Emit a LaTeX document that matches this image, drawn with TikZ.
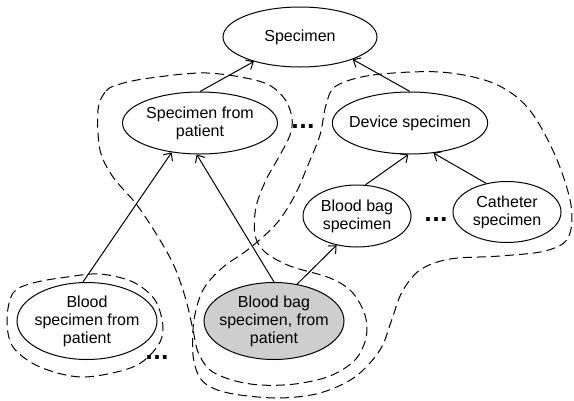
\documentclass[tikz,border=0pt]{standalone}
\usepackage{fontspec}
\setmainfont{Liberation Sans}
\newfontfamily\dotfont{DejaVu Sans}
\usetikzlibrary{shapes.geometric,arrows.meta}

\tikzset{
  cls/.style={ellipse, draw, line width=1pt, inner xsep=-6pt, inner ysep=0pt,
    align=center, font=\fontsize{16}{18}\selectfont},
  shaded/.style={fill={rgb,255:red,206;green,206;blue,206}},
  isa/.style={-{Straight Barb[length=6pt,width=11pt,line width=1pt]}, line width=1pt},
  group/.style={dashed, dash pattern=on 9pt off 5pt, line width=1pt},
  more/.style={font=\dotfont\bfseries\fontsize{21}{21}\selectfont, inner sep=0pt}
}

\begin{document}
\begin{tikzpicture}[x=1pt, y=-1pt]
\useasboundingbox (0,0) rectangle (574,400);

% class nodes
\node[cls, minimum width=154pt, minimum height=60pt] (spec) at (300,37) {Specimen};
\node[cls, minimum width=155pt, minimum height=62pt] (sfp) at (200,123) {Specimen from\\patient};
\node[cls, minimum width=154pt, minimum height=62pt] (dev) at (410,123) {Device specimen};
\node[cls, minimum width=108pt, minimum height=62pt] (bbs) at (357,216) {Blood bag\\specimen};
\node[cls, minimum width=108pt, minimum height=61pt] (cath) at (507,212) {Catheter\\specimen};
\node[cls, minimum width=140pt, minimum height=77pt] (bsfp) at (87,321) {Blood\\specimen from\\patient};
\node[cls, shaded, minimum width=140pt, minimum height=77pt] (bbfp) at (274,321) {Blood bag\\specimen, from\\patient};

% further, unnamed subclasses
\node[more] (m1) at (303,127) {...};
\node[more] (m2) at (436,220) {...};
\node[more] (m3) at (157,358) {...};

% generalisation links
\draw[isa] (sfp.north) -- (spec.208);
\draw[isa] (dev.north) -- (spec.337);
\draw[isa] (bsfp.96) -- (sfp.226);
\draw[isa] (bbfp.north) -- (sfp.264);
\draw[isa] (bbfp.58) -- (bbs.235);
\draw[isa] (bbs.75) -- (dev.267);
\draw[isa] (cath.126) -- (dev.308);

% group: specimens from a patient
\draw[group] plot[smooth cycle, tension=0.55] coordinates {
  (98,110) (106,91) (120,84) (150,78) (207,73) (262,82) (284,98) (292,118)
  (290,135) (280,155) (266,180) (256,207) (255,235) (265,252) (290,266)
  (330,278) (352,292) (365,315) (366,338) (355,360) (330,376) (295,384)
  (260,385) (232,380) (210,370) (198,352) (193,330) (186,300) (175,268)
  (160,240) (137,205) (113,177) (100,150)};

% group: device specimens
\draw[group] plot[smooth cycle, tension=0.55] coordinates {
  (336,86) (373,75) (440,72) (493,83) (528,108) (555,155) (571,205)
  (568,238) (545,251) (500,256) (450,259) (420,270) (402,292) (391,322)
  (380,350) (355,377) (320,393) (280,398) (240,395) (215,389) (200,378)
  (193,355) (194,320) (203,290) (222,268) (250,248) (277,223) (295,195)
  (308,165) (320,135) (326,105)};

% group: blood specimens from a patient
\draw[group] plot[smooth cycle, tension=0.55] coordinates {
  (13,293) (33,283) (67,277) (100,274) (133,282) (155,300) (163,327)
  (157,347) (133,367) (83,377) (40,367) (13,347) (7,320)};
\end{tikzpicture}
\end{document}
